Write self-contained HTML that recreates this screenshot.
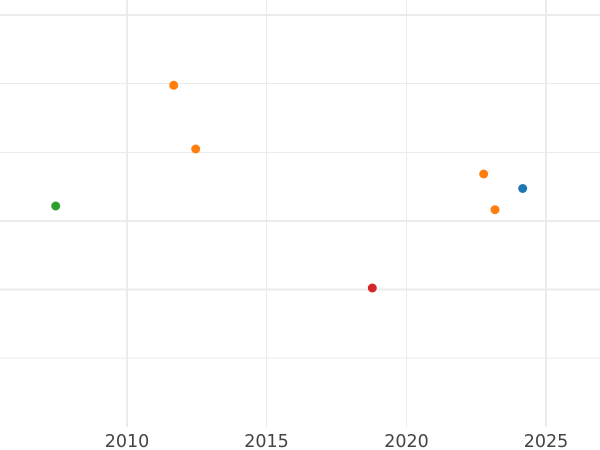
<!DOCTYPE html>
<html><head><meta charset="utf-8"><style>
html,body{margin:0;padding:0;background:#fff;}
svg{display:block;}
text{font-family:"DejaVu Sans","Liberation Sans",sans-serif;font-size:17.5px;fill:#444;}
</style></head><body>
<svg width="600" height="450" viewBox="0 0 600 450" xmlns="http://www.w3.org/2000/svg">
<rect width="600" height="450" fill="#fff"/>
<g stroke="#ebebeb">
<line x1="0" y1="15" x2="600" y2="15" stroke-width="2"/>
<line x1="0" y1="83.5" x2="600" y2="83.5" stroke-width="1"/>
<line x1="0" y1="152.5" x2="600" y2="152.5" stroke-width="1"/>
<line x1="0" y1="221" x2="600" y2="221" stroke-width="2"/>
<line x1="0" y1="289.5" x2="600" y2="289.5" stroke-width="2"/>
<line x1="0" y1="358" x2="600" y2="358" stroke-width="1"/>
<line x1="127" y1="0" x2="127" y2="427" stroke-width="2"/>
<line x1="266.5" y1="0" x2="266.5" y2="427" stroke-width="1"/>
<line x1="406.5" y1="0" x2="406.5" y2="427" stroke-width="1"/>
<line x1="546" y1="0" x2="546" y2="427" stroke-width="2"/>
</g>
<circle cx="55.7" cy="206" r="4.5" fill="#2ca02c"/>
<circle cx="173.7" cy="85.3" r="4.5" fill="#ff7f0e"/>
<circle cx="195.7" cy="149" r="4.5" fill="#ff7f0e"/>
<circle cx="372.3" cy="288" r="4.5" fill="#d62728"/>
<circle cx="483.7" cy="174" r="4.5" fill="#ff7f0e"/>
<circle cx="522.7" cy="188.5" r="4.5" fill="#1f77b4"/>
<circle cx="495" cy="209.7" r="4.5" fill="#ff7f0e"/>
<text x="127" y="447" text-anchor="middle">2010</text>
<text x="266.5" y="447" text-anchor="middle">2015</text>
<text x="406.5" y="447" text-anchor="middle">2020</text>
<text x="546" y="447" text-anchor="middle">2025</text>
</svg>
</body></html>
